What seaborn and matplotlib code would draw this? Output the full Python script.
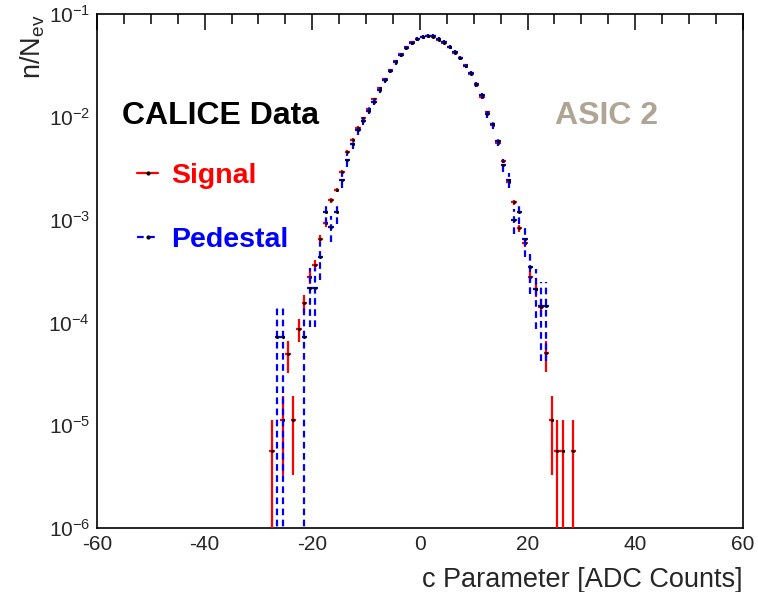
"""
c parameter distribution, signal vs pedestal (CALICE, ASIC 2)
"""

import numpy as np
import pandas as pd

import matplotlib
matplotlib.use("Agg")
import matplotlib.pyplot as plt
import seaborn as sns

from matplotlib.lines import Line2D
from matplotlib.ticker import LogLocator, MultipleLocator, NullFormatter

# bin centres [ADC counts], 1 count wide
bin_centres = [
    -27.5, -26.5, -25.5, -24.5, -23.5, -22.5, -21.5, -20.5, -19.5, -18.5,
    -17.5, -16.5, -15.5, -14.5, -13.5, -12.5, -11.5, -10.5, -9.5, -8.5,
    -7.5, -6.5, -5.5, -4.5, -3.5, -2.5, -1.5, -0.5, 0.5, 1.5,
    2.5, 3.5, 4.5, 5.5, 6.5, 7.5, 8.5, 9.5, 10.5, 11.5,
    12.5, 13.5, 14.5, 15.5, 16.5, 17.5, 18.5, 19.5, 20.5, 21.5,
    22.5, 23.5, 24.5, 25.5, 26.5, 27.5, 28.5
]

nan = np.nan

# n/N_ev (nan = empty bin)
signal_frac = [
    5.6e-6, nan, 1.12e-5, 4.9e-5, 1.12e-5, 8.7e-5, 1.55e-4, 2.75e-4, 3.6e-4, 6.5e-4,
    9.3e-4, 1.55e-3, 1.95e-3, 2.9e-3, 4.6e-3, 6.0e-3, 7.9e-3, 9.8e-3, 0.0120, 0.0151,
    0.0191, 0.0234, 0.0288, 0.0347, 0.0407, 0.0479, 0.0537, 0.0575, 0.0603, 0.0617,
    0.0603, 0.0562, 0.0525, 0.0479, 0.0417, 0.0372, 0.0324, 0.0263, 0.0204, 0.0158,
    0.0112, 0.0083, 0.0056, 0.0037, 2.34e-3, 1.48e-3, 8.3e-4, 6.0e-4, 2.8e-4, 2.1e-4,
    1.41e-4, 5.0e-5, 1.12e-5, 5.6e-6, 5.6e-6, nan, 5.6e-6
]

pedestal_frac = [
    nan, 7.2e-5, 7.2e-5, nan, nan, nan, 7.2e-5, 2.15e-4, 2.15e-4, 4.35e-4,
    1.2e-3, 8.5e-4, 1.2e-3, 2.45e-3, 3.8e-3, 5.5e-3, 7.4e-3, 9.1e-3, 0.0115, 0.0141,
    0.0182, 0.0229, 0.0282, 0.0339, 0.0398, 0.0468, 0.0525, 0.0575, 0.0603, 0.0617,
    0.0617, 0.0575, 0.0537, 0.0479, 0.0427, 0.0372, 0.0316, 0.0269, 0.0209, 0.0162,
    0.0107, 0.0085, 0.0059, 0.0034, 2.45e-3, 1.0e-3, 1.2e-3, 6.5e-4, 3.5e-4, 2.1e-4,
    1.44e-4, 1.44e-4, nan, nan, nan, nan, nan
]

# number of events (sets the Poisson error bars)
signal_events = 178000
pedestal_events = 13900

RED = "#ff0000"
BLUE = "#0000ff"

sns.set_style("white")

plt.rcParams["font.family"] = ["Liberation Sans", "DejaVu Sans"]
plt.rcParams["mathtext.fontset"] = "custom"
plt.rcParams["mathtext.rm"] = "Liberation Sans"
plt.rcParams["mathtext.it"] = "Liberation Sans:italic"
plt.rcParams["mathtext.bf"] = "Liberation Sans:bold"
plt.rcParams["mathtext.default"] = "regular"
plt.rcParams["axes.unicode_minus"] = False

fig = plt.figure(figsize=(7.58, 5.92), dpi=100)

ax = fig.add_axes([0.128, 0.108, 0.852, 0.868])


def draw_series(frac, n_ev, color, dashed, z):

    df = pd.DataFrame({
        "c": bin_centres,
        "frac": frac
    }).dropna()

    err = np.sqrt(df["frac"] / n_ev)

    # lower bar runs off the bottom of the log axis for single counts
    lower = np.minimum(err, df["frac"] - 1e-8)

    eb = ax.errorbar(
        df["c"],
        df["frac"],
        xerr=0.5,
        yerr=[lower, err],
        fmt="none",
        ecolor=color,
        elinewidth=1.6,
        capsize=0,
        zorder=z
    )

    if dashed:
        for lc in eb[2]:
            lc.set_linestyle((0, (3, 2)))

    sns.scatterplot(
        data=df,
        x="c",
        y="frac",
        color="black",
        s=5,
        marker="o",
        linewidth=0,
        legend=False,
        zorder=z + 1,
        ax=ax
    )


draw_series(signal_frac, signal_events, RED, False, 3)
draw_series(pedestal_frac, pedestal_events, BLUE, True, 5)

# Axes

ax.set_yscale("log")
ax.set_xlim(-60, 60)
ax.set_ylim(1e-6, 1e-1)

ax.xaxis.set_major_locator(MultipleLocator(20))
ax.xaxis.set_minor_locator(MultipleLocator(5))
ax.yaxis.set_major_locator(LogLocator(base=10))
ax.yaxis.set_minor_locator(LogLocator(base=10, subs=np.arange(2, 10)))
ax.yaxis.set_minor_formatter(NullFormatter())

for side in ax.spines.values():
    side.set_linewidth(1.2)
    side.set_color("black")

ax.tick_params(
    axis="both", which="both", direction="in",
    top=True, right=False, color="black", width=1.1
)
ax.tick_params(axis="x", which="major", length=11.5, pad=5, labelsize=15)
ax.tick_params(axis="x", which="minor", length=7)
ax.tick_params(axis="y", which="major", length=14.5, pad=5, labelsize=15)
ax.tick_params(axis="y", which="minor", length=7)

ax.set_xlabel(
    "c Parameter [ADC Counts]",
    fontsize=19.5,
    loc="right"
)
ax.xaxis.set_label_coords(1.0, -0.075)

ax.set_ylabel(
    "n/N$_{ev}$",
    fontsize=19.5,
    loc="top"
)
ax.yaxis.set_label_coords(-0.078, 1.0)

# Labels

ax.text(
    0.039, 0.801, "CALICE Data",
    transform=ax.transAxes,
    fontsize=23, fontweight="bold",
    color="black", va="center", ha="left"
)

ax.text(
    0.709, 0.801, "ASIC 2",
    transform=ax.transAxes,
    fontsize=23, fontweight="bold",
    color="#b0a595", va="center", ha="left"
)

# Legend

handles = [
    Line2D([], [], color=RED, lw=1.6, marker="o", markersize=2,
           markerfacecolor="black", markeredgecolor="black"),
    Line2D([], [], color=BLUE, lw=1.6, ls=(0, (3, 2)), marker="o",
           markersize=2, markerfacecolor="black", markeredgecolor="black")
]

leg = ax.legend(
    handles,
    ["Signal", "Pedestal"],
    loc="upper left",
    bbox_to_anchor=(0.062, 0.71),
    frameon=False,
    prop={"weight": "bold", "size": 20.5},
    handlelength=0.75,
    handletextpad=0.45,
    labelspacing=1.33,
    borderpad=0,
    borderaxespad=0
)

for txt, col in zip(leg.get_texts(), [RED, BLUE]):
    txt.set_color(col)

plt.savefig(
    "out.png",
    dpi=100
)

plt.close()
